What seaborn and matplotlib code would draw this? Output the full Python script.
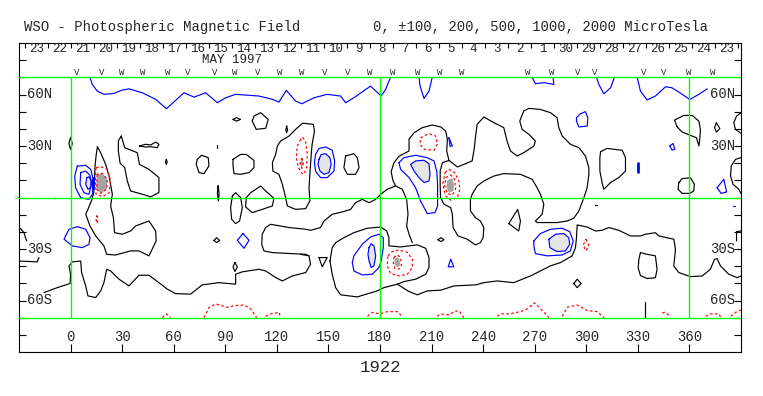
import matplotlib
matplotlib.use("Agg")
import matplotlib.pyplot as plt
import pandas as pd
import seaborn as sns

# ---------------------------------------------------------------------------
# Text and axis data
# ---------------------------------------------------------------------------

title_left = "WSO - Photospheric Magnetic Field"
title_right = "0, \u00b1100, 200, 500, 1000, 2000 MicroTesla"
month_label = "MAY 1997"
rotation_label = "1922"

day_labels = [23, 22, 21, 20, 19, 18, 17, 16, 15, 14, 13, 12, 11, 10, 9, 8,
              7, 6, 5, 4, 3, 2, 1, 30, 29, 28, 27, 26, 25, 24, 23]
lon_ticks = [0, 30, 60, 90, 120, 150, 180, 210, 240, 270, 300, 330, 360]
lat_label_vals = [60, 30, -30, -60]
lat_label_text = ["60N", "30N", "30S", "60S"]

obs_lon = [3.7, 18.3, 29.9, 42.1, 56.7, 68.3, 84.0, 95.6, 109.0, 121.8, 134.6,
           148.0, 161.4, 174.2, 187.5, 202.1, 214.9, 227.6, 266.0, 280.0,
           295.1, 305.0, 333.5, 345.2, 359.7, 373.7]
obs_mark = ["V", "V", "W", "W", "W", "V", "V", "W", "V", "W", "W", "V", "V",
            "W", "W", "W", "W", "W", "W", "W", "V", "V", "V", "V", "W", "W"]

# ---------------------------------------------------------------------------
# Contours: (Carrington longitude, latitude)
# ---------------------------------------------------------------------------

# neutral line (black), closed loops
k_spot_w = [(15.6, 29.6), (17.5, 26.1), (20.4, 19.3), (22.4, 12.5), (24.3, 1.9),
            (23.3, -4.9), (24.9, -11.7), (25.6, -20.5), (30.1, -21.4), (34.9, -19.5),
            (37.8, -16.6), (45.6, -13.7), (49.5, -19.5), (49.8, -25.3), (45.6, -34.0),
            (39.8, -31.1), (34.9, -31.1), (26.2, -33.5), (21.0, -33.1), (19.4, -28.2),
            (14.6, -22.4), (11.3, -16.6), (8.8, -9.8), (10.1, -6.9), (12.5, -1.0),
            (13.5, 3.0), (13.9, 10.0), (14.2, 18.0), (14.8, 24.0)]
k_w2 = [(29.5, 35.8), (31.5, 29.0), (38.8, 26.1), (40.1, 19.3), (45.6, 16.4),
        (51.4, 11.6), (51.4, 2.9), (46.6, 0.4), (41.7, 1.9), (34.9, 3.8), (33.0, 9.7),
        (31.5, 17.4), (28.8, 20.0), (27.8, 27.0), (27.8, 33.0)]
k_thin0 = [(0.0, 35.0), (1.0, 31.5), (0.0, 28.0), (-1.0, 31.5)]
k_small95 = [(94.5, 45.5), (96.5, 46.5), (98.9, 45.5), (96.5, 44.5)]
k_pent110 = [(105.7, 44.5), (106.7, 47.5), (110.6, 49.4), (115.0, 45.5),
             (113.5, 40.3), (108.0, 39.7)]
k_thin125 = [(125.7, 41.6), (126.2, 39.5), (125.7, 37.7), (125.2, 39.5)]
k_red134 = [(141.2, 42.6), (135.0, 43.3), (130.9, 39.7), (127.1, 35.8), (122.2, 32.9),
            (120.3, 30.0), (119.3, 25.1), (117.4, 20.3), (117.7, 15.4), (121.2, 13.5),
            (123.2, 7.7), (125.1, 0.0), (126.1, -4.9), (130.9, -6.9), (136.7, -6.5),
            (139.2, -2.0), (138.7, 5.7), (139.2, 13.5), (140.0, 25.1), (140.5, 31.0),
            (141.9, 38.7)]
k_thin55 = [(55.7, 22.2), (56.2, 20.7), (55.7, 19.3), (55.2, 20.7)]
k_long45 = [(40.1, 30.0), (43.6, 31.0), (46.6, 30.6), (49.5, 32.3), (51.4, 31.0),
            (50.4, 29.0), (46.6, 29.6), (43.6, 29.4)]
k_loop77 = [(73.7, 22.2), (76.2, 24.6), (80.1, 23.2), (80.5, 18.4), (77.6, 13.9),
            (74.7, 14.5), (73.1, 19.3)]
k_loop100 = [(94.5, 22.2), (98.9, 25.1), (102.2, 25.1), (106.7, 21.6), (106.7, 17.4),
             (103.8, 14.5), (98.9, 13.5), (95.1, 13.9), (94.5, 18.4)]
k_thin86 = [(85.8, 6.8), (86.4, 2.4), (86.0, -2.0), (85.4, 2.4)]
k_loop96 = [(94.1, 0.9), (96.0, 2.8), (98.9, 0.0), (99.9, -5.9), (98.3, -13.7),
            (96.0, -15.2), (93.7, -12.7), (93.1, -5.9)]
k_pent110s = [(102.2, -0.1), (104.8, 2.8), (110.6, 6.7), (113.5, 3.8), (118.3, -0.5),
              (117.4, -4.9), (111.5, -6.9), (105.7, -8.8), (101.8, -5.5)]
k_small85 = [(83.4, -25.0), (85.0, -23.4), (86.7, -25.0), (85.0, -26.3)]
k_small96 = [(95.6, -37.9), (97.0, -40.4), (95.6, -43.1), (94.5, -40.4)]
k_loop163 = [(160.0, 24.2), (164.8, 25.5), (166.8, 23.2), (167.8, 17.4), (165.8, 13.5),
             (161.0, 13.5), (159.0, 17.4)]
k_tri145 = [(144.5, -35.0), (149.3, -35.0), (146.4, -40.4)]
k_dia215 = [(213.7, -24.6), (215.5, -23.4), (217.2, -24.6), (215.5, -25.7)]
k_big260 = [(220.1, 21.6), (225.0, 17.8), (229.8, 19.7), (233.6, 21.3), (234.9, 29.0),
            (235.5, 34.8), (236.5, 42.6), (240.4, 46.9), (246.2, 43.6), (252.0, 40.7),
            (253.9, 32.9), (255.9, 27.1), (259.8, 24.2), (263.6, 26.1), (269.5, 30.0),
            (270.4, 32.9), (266.6, 36.8), (262.7, 39.7), (261.3, 44.5), (263.6, 50.4),
            (266.6, 51.9), (273.3, 51.3), (279.2, 49.4), (283.0, 46.5), (284.0, 40.7),
            (286.0, 35.8), (290.8, 31.0), (295.7, 29.0), (299.5, 24.2), (301.5, 17.4),
            (301.5, 13.5), (300.5, 5.7), (298.6, -0.1), (295.7, -7.8), (292.7, -12.1),
            (288.9, -13.7), (283.0, -14.6), (277.2, -14.6), (271.4, -14.6), (270.4, -13.7),
            (274.3, -9.8), (275.3, -4.0), (273.3, 1.9), (271.4, 5.7), (268.5, 10.6),
            (261.7, 13.5), (252.0, 13.9), (246.2, 12.5), (240.4, 9.6), (236.5, 6.7),
            (233.6, 1.9), (232.6, -1.1), (232.6, -7.8), (235.5, -11.7), (238.4, -13.7),
            (240.4, -17.5), (240.0, -23.4), (238.4, -26.3), (235.5, -27.6), (230.8, -24.3),
            (225.4, -22.4), (222.5, -17.5), (222.1, -9.8), (221.1, -5.9), (217.2, -3.9),
            (215.2, 0.0), (215.0, 7.7), (215.0, 15.4), (216.3, 20.3)]
k_tri258 = [(254.9, -15.2), (260.1, -6.9), (261.7, -13.7), (260.7, -19.5)]
k_loop315 = [(308.3, 26.7), (312.1, 28.6), (320.9, 27.5), (322.8, 23.2), (322.8, 15.4),
             (318.9, 11.6), (314.1, 8.7), (310.2, 4.8), (309.2, 8.7), (307.9, 15.4),
             (307.9, 23.2)]
k_dia295 = [(292.7, -50.1), (294.7, -47.6), (297.0, -50.1), (294.7, -52.5)]
k_loop336 = [(331.5, -32.1), (335.4, -33.1), (340.2, -34.0), (341.2, -41.8),
             (340.2, -46.7), (335.4, -47.2), (331.5, -45.5), (330.2, -41.0), (330.6, -36.0)]
k_loop358 = [(353.8, 8.6), (355.8, 11.0), (360.6, 11.5), (362.9, 7.7), (362.5, 3.8),
             (360.2, 2.4), (355.8, 2.4), (353.4, 4.8)]
k_shape360 = [(352.8, 41.2), (351.3, 45.1), (356.7, 47.8), (361.6, 47.8), (365.5, 44.5),
              (366.4, 39.7), (366.0, 33.9), (365.5, 30.0), (364.1, 34.8), (360.6, 36.2),
              (355.8, 38.1)]
k_small376 = [(375.7, 43.6), (377.7, 40.1), (375.7, 38.1), (374.6, 40.7)]

# neutral line (black), open pieces
k_south = [(-15.5, -55.4), (-7.7, -52.5), (-0.3, -50.1), (0.0, -44.7), (-0.9, -39.9),
           (1.0, -37.5), (5.9, -37.0), (6.4, -43.7), (8.8, -51.5), (10.1, -57.3),
           (14.6, -58.3), (17.5, -54.4), (19.4, -49.6), (21.0, -41.8), (23.3, -42.8),
           (28.2, -47.6), (34.0, -51.5), (39.8, -45.3), (45.6, -45.3), (51.4, -49.6),
           (56.3, -53.4), (61.1, -56.0), (69.8, -56.3), (76.6, -50.9), (86.3, -49.6),
           (96.0, -50.5), (96.0, -44.7), (99.9, -43.3), (109.6, -41.8), (113.5, -42.8),
           (119.3, -46.6), (123.2, -48.6), (129.0, -45.7), (136.8, -43.7), (139.6, -38.9),
           (138.7, -34.0), (136.8, -33.1), (129.0, -32.7), (117.4, -32.1), (112.5, -31.1),
           (111.2, -27.2), (111.5, -21.4), (113.5, -17.5), (116.4, -15.6), (127.1, -17.5),
           (136.8, -18.5), (139.6, -19.1), (145.4, -17.5), (147.4, -13.7), (152.2, -9.8),
           (158.1, -8.4), (162.9, -6.9), (165.8, -3.0), (169.7, -1.1), (173.6, -3.0),
           (177.5, -1.1), (180.4, 1.9), (184.2, 4.8), (189.1, 6.7), (187.5, 10.0),
           (186.5, 15.0), (188.0, 20.0), (191.0, 24.0), (196.9, 27.1), (196.9, 34.0),
           (199.8, 37.7), (204.6, 40.7), (210.4, 42.2), (215.3, 41.1), (218.2, 38.7),
           (219.2, 33.9), (218.8, 27.1), (220.1, 21.6)]
k_branch = [(189.1, 6.7), (193.0, 4.8), (195.5, -1.1), (196.3, -9.8), (195.5, -16.6),
            (196.9, -21.4), (198.8, -26.3)]
k_spots_s = [(150.9, -37.0), (152.2, -29.2), (154.2, -26.3), (159.0, -23.4),
             (164.8, -20.5), (172.6, -17.9), (180.4, -17.2), (183.9, -19.5),
             (185.2, -23.4), (185.2, -28.2), (192.0, -28.8), (201.7, -27.6),
             (206.6, -29.6), (208.5, -35.0), (208.5, -40.8), (206.6, -44.7),
             (200.7, -47.6), (193.9, -49.0), (190.1, -50.5), (182.3, -52.5),
             (178.4, -54.4), (166.8, -57.9), (157.1, -56.7), (154.2, -52.5),
             (152.2, -44.7), (150.9, -37.0)]
k_tail_s = [(190.1, -50.5), (196.9, -54.8), (201.7, -56.7), (207.5, -54.4),
            (215.3, -54.0), (223.0, -51.5), (235.7, -50.9), (240.4, -49.6),
            (248.1, -48.6), (257.8, -49.6), (267.5, -45.7), (273.3, -42.8),
            (279.2, -39.8), (285.0, -37.9), (291.8, -34.0), (293.7, -29.2),
            (294.3, -23.4), (294.7, -16.0), (300.5, -17.2), (305.4, -19.5),
            (309.2, -19.1), (313.1, -17.5), (318.9, -19.1), (325.7, -22.4),
            (331.5, -22.4), (334.4, -21.4), (340.2, -20.5), (342.2, -22.4),
            (350.9, -24.3), (351.9, -30.2), (350.9, -39.9), (353.8, -43.7),
            (360.6, -46.1), (367.4, -45.7), (372.2, -41.8), (374.6, -36.0),
            (376.1, -35.6), (378.1, -39.9), (382.9, -44.7), (387.8, -46.7), (390.0, -45.7)]
k_piece139 = [(133.8, -33.1), (138.7, -34.0)]
k_dot85 = [(85.4, 30.6), (85.4, 29.0)]
k_dot305 = [(305.0, -4.5), (306.0, -4.5)]
k_tick334 = [(334.4, -61.0), (334.4, -70.0)]
k_edge1 = [(390.0, 49.4), (387.4, 47.4), (385.8, 43.6), (386.8, 39.7), (390.0, 37.4)]
k_edge2 = [(390.0, 23.2), (386.8, 22.2), (384.3, 18.3), (383.9, 12.5), (385.4, 7.7),
           (388.7, 4.8), (390.0, 2.3)]
k_edge3 = [(390.0, -19.5), (387.4, -19.9), (387.4, -25.3)]
k_left1 = [(-30.0, -17.5), (-29.1, -18.1), (-27.1, -20.5), (-25.6, -25.3)]
k_left2 = [(-30.0, -37.0), (-19.4, -37.5), (-18.4, -35.0)]

# positive field (blue), open pieces reaching the north edge
b_north_a = [(11.3, 70.0), (12.6, 65.9), (15.5, 62.0), (19.4, 60.1), (25.2, 60.6),
             (30.1, 62.6), (34.0, 63.3), (41.7, 61.0), (49.5, 57.2), (55.7, 51.7),
             (66.0, 61.0), (71.8, 58.5), (78.6, 61.0), (85.4, 55.2), (90.2, 58.1),
             (96.0, 60.1), (109.6, 59.1), (117.4, 57.2), (121.2, 55.6), (125.5, 62.4),
             (130.9, 56.2), (134.5, 54.6), (141.6, 58.1), (149.3, 60.1), (157.1, 59.1),
             (160.0, 55.2), (164.8, 58.1), (174.5, 64.9), (176.5, 63.0), (180.7, 59.1),
             (183.3, 63.0), (185.2, 67.8), (186.2, 70.0)]
b_north_b = [(202.7, 70.0), (203.3, 64.9), (205.6, 57.7), (208.5, 62.0), (210.4, 70.0)]
b_north_c = [(268.5, 70.0), (270.4, 66.3), (275.3, 66.9), (281.1, 65.9), (280.7, 70.0)]
b_north_d = [(305.9, 70.0), (307.3, 65.9), (310.2, 60.4), (314.1, 63.9), (316.4, 70.0)]
b_north_e = [(329.6, 70.0), (331.5, 62.0), (335.4, 56.8), (340.2, 59.1), (346.1, 64.5),
             (349.9, 63.9), (355.8, 60.1), (360.2, 57.1), (365.5, 60.1), (370.3, 63.3)]
b_eq_tick = [(-10.3, 0.0), (-8.5, 0.0)]
b_dot386 = [(385.4, -4.9), (386.4, -4.9)]

# positive field (blue), closed loops
b_w_outer = [(3.9, 18.3), (2.4, 12.5), (2.9, 5.7), (5.9, -0.1), (10.7, -1.1),
             (12.7, 1.9), (13.2, 10.6), (11.7, 16.4), (8.8, 18.7)]
b_w_mid = [(5.9, 14.5), (5.5, 7.7), (7.8, 2.8), (10.7, 1.9), (12.1, 7.7),
           (11.3, 12.9), (8.8, 15.4)]
b_w_inner = [(9.4, 11.5), (8.8, 7.7), (10.1, 4.8), (11.7, 5.7), (12.1, 9.6), (10.7, 12.1)]
b_w_south = [(-2.9, -22.4), (-0.9, -18.5), (3.9, -17.0), (8.8, -18.5), (11.3, -23.4),
             (10.7, -27.3), (6.8, -29.2), (1.0, -28.2), (-3.8, -24.3)]
b_dia100 = [(100.3, -21.0), (103.8, -24.9), (100.9, -29.6), (97.0, -24.9)]
b_147_outer = [(142.5, 25.1), (144.5, 28.6), (148.4, 29.4), (152.2, 27.5), (153.6, 21.3),
               (153.2, 15.4), (149.3, 11.6), (145.4, 11.6), (142.5, 15.4), (141.9, 20.3)]
b_147_inner = [(144.5, 22.2), (145.8, 25.1), (148.4, 25.5), (150.9, 23.2), (151.6, 19.3),
               (150.3, 14.5), (147.4, 13.5), (145.1, 15.4), (143.9, 19.3)]
b_205_outer = [(191.0, 20.3), (193.9, 23.2), (200.7, 24.6), (207.5, 23.2), (211.4, 21.3),
               (213.0, 15.4), (213.5, 7.7), (213.5, -4.9), (212.0, -8.8), (207.5, -9.4),
               (203.6, -2.0), (200.7, 5.7), (196.9, 11.6), (192.0, 16.4)]
b_205_inner = [(197.8, 19.3), (200.7, 21.3), (205.6, 21.7), (208.5, 19.7), (209.1, 13.5),
               (208.5, 9.6), (205.6, 8.7), (202.7, 11.6), (199.8, 15.4)]
b_221_small = [(220.1, 34.8), (222.1, 30.0), (220.8, 29.8)]
b_177s_outer = [(163.9, -37.9), (164.8, -34.0), (169.7, -27.2), (174.5, -23.0),
                (179.4, -21.4), (181.9, -23.4), (181.9, -29.2), (180.7, -36.9),
                (179.4, -40.8), (175.5, -44.7), (169.7, -45.1), (164.8, -42.8)]
b_177s_inner = [(173.6, -29.2), (174.9, -26.9), (176.5, -28.2), (177.5, -34.0),
                (176.5, -39.8), (174.9, -40.8), (173.6, -36.9), (173.0, -33.1)]
b_tri221s = [(221.1, -36.0), (223.0, -40.4), (219.7, -40.4)]
b_298 = [(294.3, 46.5), (296.6, 48.8), (299.5, 50.0), (300.9, 46.5), (300.5, 41.6),
         (295.7, 41.1), (294.3, 44.5)]
b_282s_outer = [(269.5, -25.3), (273.3, -21.0), (279.2, -18.5), (285.9, -17.9),
                (290.4, -19.9), (292.4, -25.3), (290.8, -31.1), (285.9, -33.5),
                (277.2, -34.0), (270.4, -32.7), (269.5, -28.2)]
b_282s_inner = [(278.2, -24.3), (282.1, -21.4), (286.9, -21.0), (289.8, -23.4),
                (290.4, -27.2), (287.9, -31.1), (283.0, -31.5), (278.8, -29.2)]
b_349 = [(348.6, 30.0), (350.5, 31.5), (351.5, 28.0), (349.9, 27.6)]
b_tri379 = [(376.1, 5.7), (380.0, 10.6), (381.6, 3.2), (378.4, 2.4)]

# strong gradient bars (blue)
b_bar13 = [(12.8, 11.5), (12.8, 5.7)]
b_bar330 = [(330.1, 20.3), (330.1, 15.1)]

# negative field (red, dashed), closed loops
r_w_outer = [(14.8, 17.4), (14.5, 10.6), (14.8, 1.9), (18.5, 0.5), (22.4, 2.8),
             (23.3, 9.6), (21.4, 16.4), (17.5, 18.0)]
r_w_inner = [(15.4, 13.5), (15.2, 4.8), (17.5, 2.4), (21.0, 4.8), (21.4, 10.6), (18.5, 14.1)]
r_w_small = [(15.3, -10.5), (16.0, -12.7), (15.3, -15.0), (14.8, -12.7)]
r_134_outer = [(133.9, 33.9), (131.9, 30.0), (131.3, 23.2), (132.5, 17.4), (134.8, 13.9),
               (135.7, 13.5), (137.3, 17.4), (137.7, 25.1), (136.7, 32.9), (134.8, 35.2)]
r_134_inner = [(134.5, 23.0), (135.5, 20.0), (134.5, 17.0), (133.5, 20.0)]
r_208 = [(203.6, 34.8), (208.5, 37.2), (212.4, 35.8), (213.3, 31.0), (211.4, 27.5),
         (205.6, 28.1), (203.3, 31.0)]
r_221_outer = [(217.8, 14.5), (220.1, 16.4), (223.4, 14.5), (225.9, 9.6), (226.5, 4.8),
               (225.0, 0.0), (221.1, -1.6), (218.2, 0.9), (216.5, 7.7)]
r_221_inner = [(218.2, 11.6), (221.1, 13.1), (223.4, 10.6), (224.0, 4.8), (222.1, 1.5),
               (219.2, 2.3), (217.6, 6.7)]
r_191s_outer = [(184.6, -34.0), (187.2, -31.5), (191.0, -30.5), (195.9, -32.0),
                (198.8, -36.0), (198.8, -40.8), (195.9, -44.7), (191.0, -45.7),
                (186.2, -44.3), (184.2, -39.8)]
r_191s_inner = [(188.1, -35.0), (190.1, -33.4), (192.0, -35.0), (192.4, -39.8),
                (191.0, -41.8), (188.5, -41.2), (187.7, -37.9)]
r_300s = [(299.9, -24.3), (301.5, -27.7), (299.9, -31.1), (298.2, -27.7)]

# negative field (red, dashed), open pieces along the south edge
r_s1 = [(53.4, -70.0), (55.7, -67.8), (58.2, -70.0)]
r_s2 = [(77.6, -70.0), (80.6, -64.0), (84.4, -62.0), (91.2, -64.0), (95.1, -63.0),
        (100.9, -62.6), (104.8, -64.9), (108.3, -70.0)]
r_s3 = [(113.5, -69.2), (116.4, -67.8), (121.3, -66.9), (121.9, -69.2)]
r_s4 = [(172.7, -69.2), (175.6, -66.9), (179.5, -67.8), (184.3, -66.5), (190.2, -66.5),
        (191.0, -66.9), (192.9, -70.0)]
r_s5 = [(213.3, -69.2), (215.2, -67.8), (220.1, -68.4), (223.0, -66.5), (225.9, -65.9),
        (228.8, -70.0)]
r_s6 = [(248.2, -69.2), (250.1, -67.8), (255.0, -67.8), (261.8, -66.5), (265.6, -64.9),
        (269.9, -61.4), (274.4, -65.9), (278.3, -70.0)]
r_s7 = [(286.0, -69.2), (288.9, -64.0), (294.7, -62.6), (300.6, -65.9), (306.4, -66.5),
        (310.3, -70.0)]
r_s8 = [(344.2, -67.3), (345.6, -66.9), (349.1, -69.2)]
r_s9 = [(369.4, -69.2), (372.3, -67.8), (377.2, -67.8), (378.2, -70.0)]
r_s10 = [(384.0, -69.2), (386.9, -66.9), (390.0, -65.5)]

# shaded cores (light: positive, dark: negative)
fill_light = [b_w_inner, b_147_inner, b_205_inner, b_177s_inner, b_282s_inner]
fill_dark = [r_w_inner, r_134_inner,
             [(219.2, 10.0), (222.1, 11.2), (223.0, 7.7), (222.7, 3.8), (220.1, 2.8), (218.6, 6.1)],
             [(188.6, -35.8), (190.2, -34.8), (191.4, -36.0), (191.6, -39.5), (190.4, -40.6),
              (189.0, -40.0), (188.4, -38.0)]]

black_closed = [k_spot_w, k_w2, k_thin0, k_small95, k_pent110, k_thin125, k_red134,
                k_thin55, k_long45, k_loop77, k_loop100, k_thin86, k_loop96, k_pent110s,
                k_small85, k_small96, k_loop163, k_tri145, k_dia215, k_big260, k_tri258,
                k_loop315, k_dia295, k_loop336, k_loop358, k_shape360, k_small376]
black_open = [k_south, k_branch, k_spots_s, k_tail_s, k_piece139, k_dot85, k_dot305,
              k_tick334, k_edge1, k_edge2, k_edge3, k_left1, k_left2]
blue_closed = [b_w_outer, b_w_mid, b_w_inner, b_w_south, b_dia100, b_147_outer,
               b_147_inner, b_205_outer, b_205_inner, b_221_small, b_177s_outer,
               b_177s_inner, b_tri221s, b_298, b_282s_outer, b_282s_inner, b_349, b_tri379]
blue_open = [b_north_a, b_north_b, b_north_c, b_north_d, b_north_e, b_eq_tick, b_dot386]
red_closed = [r_w_outer, r_w_inner, r_w_small, r_134_outer, r_134_inner, r_208,
              r_221_outer, r_221_inner, r_191s_outer, r_191s_inner, r_300s]
red_open = [r_s1, r_s2, r_s3, r_s4, r_s5, r_s6, r_s7, r_s8, r_s9, r_s10]


def frame_of(paths, closed):
    rows = []
    for i, pts in enumerate(paths):
        seq = list(pts) + ([pts[0]] if closed else [])
        for lon, lat in seq:
            rows.append((lon, lat, i))
    return pd.DataFrame(rows, columns=["lon", "lat", "path"])


def draw(ax, paths, closed, color, lw=0.85, ls="-"):
    df = frame_of(paths, closed)
    sns.lineplot(data=df, x="lon", y="lat", units="path", estimator=None,
                 sort=False, color=color, linewidth=lw, linestyle=ls,
                 legend=False, ax=ax, zorder=2)


sns.set_style("white")
plt.rcParams["font.family"] = ["Liberation Mono", "DejaVu Sans"]

W, H = 763, 396
fig = plt.figure(figsize=(W / 100, H / 100), dpi=100)
ax = fig.add_axes([19 / W, 44 / H, 722 / W, 309 / H])

GREEN = "#00ff00"
BLUE = "#0000ff"
RED = "#ff0000"

for poly in fill_light:
    ax.fill([p[0] for p in poly], [p[1] for p in poly], color="#e6e6e6", lw=0, zorder=1)
for poly in fill_dark:
    ax.fill([p[0] for p in poly], [p[1] for p in poly], color="#a4a4a4", lw=0, zorder=1)

draw(ax, black_closed, True, "black")
draw(ax, black_open, False, "black")
draw(ax, blue_closed, True, BLUE)
draw(ax, blue_open, False, BLUE)
draw(ax, [b_bar13, b_bar330], False, BLUE, lw=2.0)
draw(ax, red_closed, True, RED, ls=(0, (2.2, 2.0)))
draw(ax, red_open, False, RED, ls=(0, (2.2, 2.0)))

# grid frame in green
for lat in (-70, 0, 70):
    ax.axhline(lat, color=GREEN, lw=1.0, zorder=3)
ax.vlines([0, 180, 360], -70, 70, color=GREEN, lw=1.0, zorder=3)

ax.set_xlim(-30, 390)
ax.set_ylim(-90, 90)
ax.set_xlabel("")
ax.set_ylabel("")
for s in ax.spines.values():
    s.set_color("black")
    s.set_linewidth(0.8)

ax.set_yticks(range(-80, 81, 10))
ax.set_xticks(lon_ticks)
ax.tick_params(axis="y", which="both", direction="in", length=5, width=0.8,
               left=True, right=True, labelleft=False, labelright=False, color="black")
ax.tick_params(axis="x", which="both", direction="in", length=6, width=0.8,
               bottom=True, top=False, labelbottom=False, color="black")

# longitude labels inside the lower margin
for lon in lon_ticks:
    ax.text(lon, -81.5, str(lon), ha="center", va="center", fontsize=10)

# latitude labels on both sides
for val, txt in zip(lat_label_vals, lat_label_text):
    ax.text(-25.4, val, txt, ha="left", va="center", fontsize=10)
    ax.text(386.5, val, txt, ha="right", va="center", fontsize=10)

# day-of-month strip along the top
day_start, day_step = -26.5, 13.38
day_ticks = [day_start + i * day_step for i in range(len(day_labels) + 1)]
ax.vlines(day_ticks, 86.8, 90, color="black", lw=0.8)
for i, d in enumerate(day_labels):
    ax.text(day_ticks[i] + day_step / 2, 86.4, str(d), ha="center", va="center", fontsize=9)
ax.text(93.9, 80.3, month_label, ha="center", va="center", fontsize=9)

for lon, m in zip(obs_lon, obs_mark):
    ax.text(lon, 73.0, m, ha="center", va="center", fontsize=6.5)

fig.text(24 / W, 1 - 27 / H, title_left, ha="left", va="center", fontsize=10)
fig.text(373 / W, 1 - 27 / H, title_right, ha="left", va="center", fontsize=10)
fig.text(380 / W, 1 - 367 / H, rotation_label, ha="center", va="center", fontsize=12.5)
fig.text(16 / W, 1 - 198 / H, ">", ha="center", va="center", fontsize=6, color=GREEN)

fig.savefig("out.png", dpi=100)
